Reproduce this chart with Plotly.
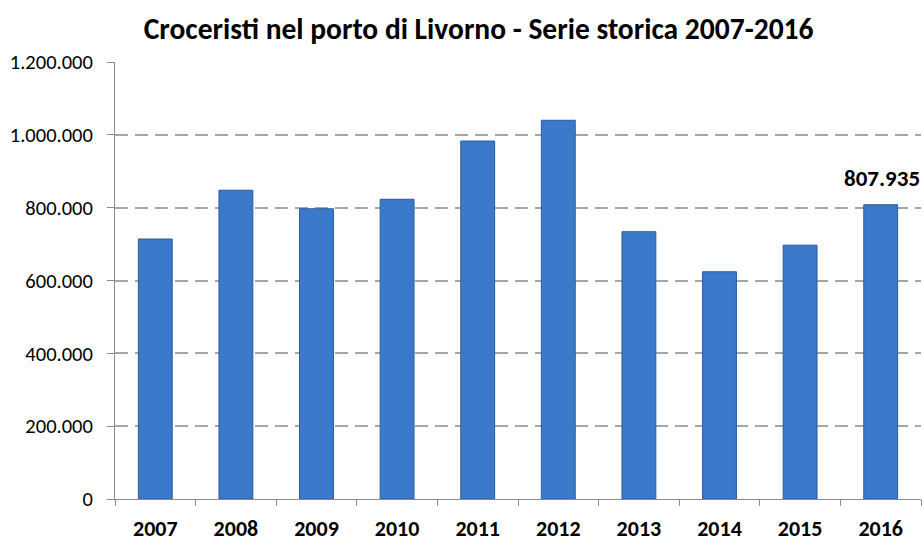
import plotly.graph_objects as go

years = ["2007", "2008", "2009", "2010", "2011", "2012", "2013", "2014", "2015", "2016"]
passengers = [714000, 848000, 797000, 823000, 983000, 1040000, 734000, 624000, 697000, 807935]
y_ticks = [0, 200000, 400000, 600000, 800000, 1000000, 1200000]
y_tick_labels = ["0", "200.000", "400.000", "600.000", "800.000", "1.000.000", "1.200.000"]

FONT = "Calibri, Carlito, Lato, sans-serif"

fig = go.Figure()
fig.add_trace(go.Bar(
    x=years, y=passengers,
    marker=dict(color="#3B7ACA", line=dict(color="#2A5B9E", width=1)),
    width=0.42,
))

# only the last bar carries its value (category axis -> use the index)
last = len(years) - 1
fig.add_annotation(
    x=last, y=passengers[last], text="<b>807.935</b>",
    showarrow=False, yshift=27, xshift=1,
    font=dict(family=FONT, size=23, color="black"),
)

fig.update_layout(
    width=924, height=542,
    margin=dict(l=115, r=3, t=62, b=43),
    paper_bgcolor="white", plot_bgcolor="white",
    showlegend=False,
    title=dict(text="<b>Croceristi nel porto di Livorno - Serie storica 2007-2016</b>",
               x=0.518, xanchor="center", y=0.948, yanchor="middle",
               font=dict(family=FONT, size=29.5, color="black")),
    font=dict(family=FONT, color="black"),
)

fig.update_xaxes(
    type="category", range=[-0.5, len(years) - 0.5], automargin=False,
    showline=True, linecolor="#8C8C8C", linewidth=1,
    ticks="outside", tickson="boundaries", ticklen=6, tickcolor="#8C8C8C",
    tickfont=dict(family=FONT, size=22, color="black"),
    tickprefix="<b>", ticksuffix="</b>", ticklabelstandoff=10,
    showgrid=False,
)
fig.update_yaxes(
    range=[0, 1200000], automargin=False,
    tickvals=y_ticks, ticktext=y_tick_labels,
    showline=True, linecolor="#8C8C8C", linewidth=1,
    ticks="outside", ticklen=7, tickcolor="#8C8C8C",
    tickfont=dict(family=FONT, size=20.5, color="black"),
    ticklabelstandoff=10,
    showgrid=True, gridcolor="#A6A6A6", gridwidth=2, griddash="13px,7px",
    zeroline=False,
)

fig.write_html("out.html", config={"displayModeBar": False},
               post_script="document.body.style.margin='0';")
